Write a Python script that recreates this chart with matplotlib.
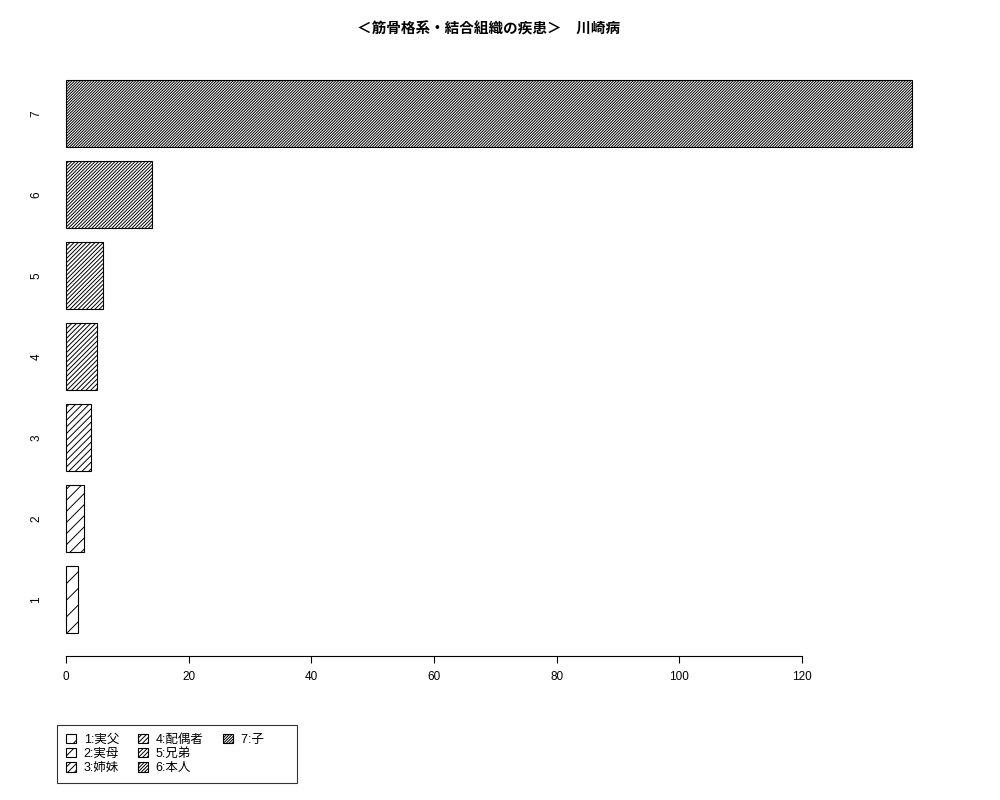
import matplotlib

matplotlib.use("Agg")
import matplotlib.pyplot as plt
from matplotlib.patches import Patch

plt.rcParams["font.family"] = ["Liberation Sans", "Noto Sans CJK JP", "DejaVu Sans"]
plt.rcParams["hatch.linewidth"] = 0.7

title = "＜筋骨格系・結合組織の疾患＞　川崎病"
categories = ["1", "2", "3", "4", "5", "6", "7"]
values = [2, 3, 4, 5, 6, 14, 138]
legend_labels = ["1:実父", "2:実母", "3:姉妹", "4:配偶者", "5:兄弟", "6:本人", "7:子　　"]
hatch_counts = [2, 3, 5, 7, 8, 10, 12]
xticks = [0, 20, 40, 60, 80, 100, 120]

fig = plt.figure(figsize=(10, 8), dpi=100)
# axes placed in pixels to line up with the R layout
ax = fig.add_axes([45 / 1000, 1 - 656 / 800, 901 / 1000, (656 - 70.5) / 800])

ypos = [0.7 + 1.2 * i for i in range(len(values))]
bars = ax.barh(ypos, values, height=1.0, color="white", edgecolor="black",
               linewidth=0.8)
for b, n in zip(bars, hatch_counts):
    b.set_hatch("/" * n)

ax.set_xlim(-3.42, -3.42 + 901 * 120 / 736)
ax.set_ylim(-0.137, 8.537)

for s in ["top", "right", "left"]:
    ax.spines[s].set_visible(False)
ax.spines["bottom"].set_bounds(0, 120)
ax.spines["bottom"].set_linewidth(0.8)
ax.set_xticks(xticks)
ax.set_xticklabels([str(t) for t in xticks], fontsize=8.5)
ax.tick_params(axis="x", length=5, width=0.8, pad=6)

ax.set_yticks(ypos)
ax.set_yticklabels(categories, rotation=90, va="center", fontsize=8.5)
ax.tick_params(axis="y", length=0, pad=2)

fig.text(0.489, 1 - 29 / 800, title, ha="center", va="center",
         fontsize=10.5, fontweight="bold")

blank = Patch(facecolor="none", edgecolor="none", label="")
handles = list(bars) + [blank, blank]
labels = legend_labels + ["", ""]
leg = fig.legend(handles, labels, ncol=3, loc="upper left",
                 bbox_to_anchor=(57 / 1000, 1 - 725 / 800),
                 borderaxespad=0, fontsize=9, frameon=True, fancybox=False,
                 edgecolor="black", handlelength=0.8, handleheight=0.8,
                 handletextpad=0.65, columnspacing=1.5, labelspacing=0.18,
                 borderpad=0.68)
leg.get_frame().set_linewidth(0.8)

fig.savefig("out.png", dpi=100)
